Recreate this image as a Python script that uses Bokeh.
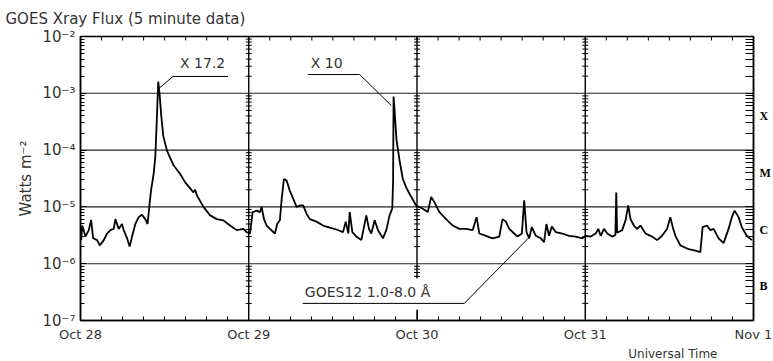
import math
from bokeh.plotting import figure
from bokeh.models import Range1d, FixedTicker, LogAxis, Label, Title
from bokeh.embed import file_html
from bokeh.resources import INLINE

# ---- data: hours since 2003-10-28 00:00 UT, GOES12 1.0-8.0 A flux (W m^-2)
hours = [0.1, 0.24, 0.71, 1.18, 1.52, 1.8, 2.37, 2.75, 3.32, 3.79, 4.27, 4.74, 4.98, 5.45, 5.92, 6.16,
         6.64, 7.01, 7.35, 7.82, 8.3, 8.77, 9.24, 9.57, 9.86, 10.05, 10.43, 10.67, 10.88, 11.09, 11.3,
         11.52, 11.8, 12.33, 13.27, 14.22, 14.93, 16.12, 16.35, 16.6, 17.54, 18.49, 19.44, 20.38, 21.33,
         22.28, 23.23, 23.7,
         24.18, 24.56, 25.13, 25.6, 25.84, 26.17, 26.55, 27.02, 27.73, 28.06, 28.44, 28.68, 29.01, 29.4,
         29.87, 30.34, 30.82, 31.29, 31.76, 32.24, 32.71, 33.66, 34.6, 35.56, 36.51, 37.45, 37.83, 38.21,
         38.4, 38.78, 39.35, 40.06, 40.77, 41.15, 41.48, 41.96, 42.43, 43.14, 43.62, 44.09, 44.47, 44.59,
         44.66, 44.8, 45.08, 45.51, 45.98, 46.46, 46.93, 47.88,
         48.83, 49.54, 50.02, 50.49, 51.2, 52.15, 53.09, 54.04, 55.0, 55.94, 56.5, 56.89, 57.84, 58.78,
         59.73, 60.2, 60.68, 61.15, 61.87, 62.34, 62.96, 63.29, 63.62, 64.0, 64.38, 64.95, 65.66, 66.13,
         66.46, 66.84, 67.23, 67.79, 68.74, 69.69, 70.64, 71.58,
         72.06, 72.77, 73.49, 73.86, 74.2, 74.67, 75.14, 75.85, 76.3, 76.42, 76.55, 77.27, 77.75, 78.13,
         78.46, 78.93, 79.4, 79.88, 80.6, 81.53, 82.25, 82.96, 83.67, 84.14, 84.48, 84.86, 85.57, 86.75,
         87.7, 88.42, 88.74, 89.36, 89.84, 90.31, 91.02, 91.73, 92.44, 92.91, 93.3, 93.87, 94.33, 95.04,
         95.76]
flux = [2.6e-6, 4.7e-6, 3.0e-6, 3.9e-6, 5.9e-6, 2.8e-6, 2.6e-6, 2.1e-6, 2.6e-6, 3.4e-6, 3.9e-6, 4.1e-6,
        6.1e-6, 4.1e-6, 5.0e-6, 3.9e-6, 2.8e-6, 2.0e-6, 3.0e-6, 5.0e-6, 6.6e-6, 7.3e-6, 6.1e-6, 5.0e-6,
        1.15e-5, 1.9e-5, 3.8e-5, 7.5e-5, 3.3e-4, 1.6e-3, 9.1e-4, 4.0e-4, 1.8e-4, 9.8e-5, 5.4e-5, 3.8e-5,
        2.7e-5, 1.8e-5, 2.0e-5, 1.6e-5, 1.0e-5, 7.1e-6, 6.1e-6, 5.8e-6, 4.7e-6, 3.9e-6, 4.1e-6, 3.6e-6,
        3.4e-6, 8.1e-6, 8.6e-6, 8.1e-6, 1.0e-5, 6.1e-6, 4.7e-6, 4.1e-6, 3.4e-6, 5.0e-6, 5.8e-6, 1.3e-5,
        3.1e-5, 2.9e-5, 1.9e-5, 1.4e-5, 1.0e-5, 1.06e-5, 1.06e-5, 7.6e-6, 6.1e-6, 5.5e-6, 4.7e-6, 4.3e-6,
        4.0e-6, 3.6e-6, 5.5e-6, 3.4e-6, 8.1e-6, 3.6e-6, 3.0e-6, 2.6e-6, 7.1e-6, 4.1e-6, 3.4e-6, 5.8e-6,
        3.9e-6, 2.8e-6, 3.9e-6, 7.1e-6, 9.3e-6, 2.9e-5, 8.8e-4, 5.0e-4, 1.5e-4, 6.6e-5, 3.1e-5, 2.2e-5,
        1.7e-5, 1.06e-5,
        9.3e-6, 8.1e-6, 1.5e-5, 1.2e-5, 8.1e-6, 6.1e-6, 4.7e-6, 4.1e-6, 4.1e-6, 3.9e-6, 6.6e-6, 3.4e-6,
        3.1e-6, 2.8e-6, 3.0e-6, 6.1e-6, 5.5e-6, 4.1e-6, 3.4e-6, 3.0e-6, 3.4e-6, 1.3e-5, 3.6e-6, 2.8e-6,
        4.4e-6, 3.1e-6, 2.8e-6, 2.4e-6, 5.0e-6, 3.1e-6, 4.5e-6, 3.6e-6, 3.4e-6, 3.1e-6, 3.0e-6, 2.8e-6,
        3.1e-6, 3.0e-6, 3.4e-6, 4.1e-6, 3.1e-6, 4.1e-6, 3.4e-6, 3.0e-6, 3.2e-6, 1.8e-5, 3.5e-6, 3.9e-6,
        5.8e-6, 1.06e-5, 6.1e-6, 4.7e-6, 4.1e-6, 4.7e-6, 3.4e-6, 3.0e-6, 2.6e-6, 3.1e-6, 4.1e-6, 6.6e-6,
        4.4e-6, 3.1e-6, 2.1e-6, 1.8e-6, 1.7e-6, 1.6e-6, 4.4e-6, 4.7e-6, 3.9e-6, 4.1e-6, 2.8e-6, 2.3e-6,
        4.1e-6, 6.6e-6, 8.6e-6, 6.6e-6, 4.4e-6, 3.1e-6, 2.6e-6]

day_ticks = [0, 24, 48, 72, 96]
day_labels = ["Oct 28", "Oct 29", "Oct 30", "Oct 31", "Nov 1"]
hour3_ticks = list(range(0, 97, 3))
decade_exps = [-7, -6, -5, -4, -3, -2]
decade_labels = ["10⁻⁷", "10⁻⁶", "10⁻⁵", "10⁻⁴", "10⁻³", "10⁻²"]
class_labels = ["B", "C", "M", "X"]
class_values = [4e-7, 4e-6, 4e-5, 4e-4]
title_text = "GOES Xray Flux (5 minute data)"
ylabel_text = "Watts m⁻²"
xlabel_text = "Universal Time"
flare_labels = ["X 17.2", "X 10"]
series_label = "GOES12 1.0-8.0 Å"

decades = [10.0 ** e for e in decade_exps]
minors = [k * 10.0 ** e for e in decade_exps[:-1] for k in range(2, 10)]

FONT = "DejaVu Sans"
TXT = "#333333"

p = figure(width=773, height=361, x_range=Range1d(0, 96), y_range=Range1d(1e-7, 1e-2),
           y_axis_type="log", output_backend="svg", toolbar_location=None,
           min_border_left=80, min_border_right=18, min_border_top=36, min_border_bottom=41,
           background_fill_color="white", border_fill_color="white",
           outline_line_color="black", outline_line_width=1.5)
p.xgrid.visible = False
p.ygrid.visible = False

# title
p.title.text = title_text
p.title.align = "left"
p.title.vertical_align = "top"
p.title.standoff = 14
p.title.offset = -75
p.title.text_font = FONT
p.title.text_font_size = "15px"
p.title.text_font_style = "normal"
p.title.text_color = TXT

# decade lines and day lines
inner = decades[1:-1]
p.segment(x0=[day_ticks[0]] * len(inner), x1=[day_ticks[-1]] * len(inner), y0=inner, y1=inner,
          line_color="#222222", line_width=1.1)
days_in = day_ticks[1:-1]
p.segment(x0=days_in, x1=days_in, y0=[decades[0]] * len(days_in), y1=[decades[-1]] * len(days_in),
          line_color="black", line_width=1.4)
tx = [d for d in days_in for t in minors]
ty = [t for d in days_in for t in minors]
p.scatter(x=tx, y=ty, marker="dash", size=6, line_color="black", line_width=1)

# top-edge ticks (half of each dash is clipped by the frame)
p.scatter(x=hour3_ticks, y=[decades[-1]] * len(hour3_ticks), marker="dash", angle=math.pi / 2,
          size=8, line_color="black", line_width=1)

# white background behind the series label
p.quad(left=[31.2], right=[55.2], bottom=[1.56e-7], top=[5.5e-7], fill_color="white", line_color=None)

# flux curve
p.line(hours, flux, line_color="black", line_width=1.8)

# flare annotations
pk1 = flux.index(max(flux[:48]))
pk2 = flux.index(max(flux[48:98]))
p.line([hours[pk1] + 0.1, 13.2, 21.05], [1.22e-3, 1.98e-3, 1.98e-3], line_color="black", line_width=1)
p.line([hours[pk2] - 0.33, 39.82, 32.43], [6.1e-4, 2.14e-3, 2.14e-3], line_color="black", line_width=1)
p.line([63.86, 54.75, 31.7], [2.8e-6, 2.0e-7, 2.0e-7], line_color="black", line_width=1)

def lab(x, y, text, size, align="left"):
    p.add_layout(Label(x=x, y=y, text=text, text_font=FONT, text_font_size=size, text_color=TXT,
                       text_align=align, text_baseline="middle"))

lab(14.2, 3.35e-3, flare_labels[0], "14px")
lab(32.85, 3.48e-3, flare_labels[1], "14px")
lab(32.0, 3.24e-7, series_label, "14px")

# bottom axis
xa = p.xaxis[0]
xa.ticker = FixedTicker(ticks=day_ticks, minor_ticks=hour3_ticks)
xa.major_label_overrides = dict(zip(day_ticks, day_labels))
xa.major_tick_in = 10
xa.major_tick_out = 0
xa.minor_tick_in = 4
xa.minor_tick_out = 0
xa.major_label_standoff = 6
xa.major_label_text_font = FONT
xa.major_label_text_font_size = "13px"
xa.major_label_text_color = TXT
xa.axis_line_width = 1.5

# "Universal Time" below the axis, right of centre
ut = Title(text=xlabel_text, align="right", offset=36, text_font=FONT, text_font_size="12px",
           text_font_style="normal", text_color=TXT, standoff=0)
p.add_layout(ut, "below")

# left axis
ya = p.yaxis[0]
ya.ticker = FixedTicker(ticks=decades, minor_ticks=minors)
ya.major_label_overrides = dict(zip(decades, decade_labels))
ya.major_tick_in = 6
ya.major_tick_out = 0
ya.minor_tick_in = 4
ya.minor_tick_out = 0
ya.major_label_standoff = 5
ya.major_label_text_font = FONT
ya.major_label_text_font_size = "15px"
ya.major_label_text_color = TXT
ya.axis_label = ylabel_text
ya.axis_label_text_font = FONT
ya.axis_label_text_font_size = "15px"
ya.axis_label_text_font_style = "normal"
ya.axis_label_text_color = TXT
ya.axis_label_standoff = 4
ya.axis_line_width = 1.5

# right axis with flare classes
ra = LogAxis(ticker=FixedTicker(ticks=class_values, minor_ticks=minors + decades),
             major_label_overrides=dict(zip(class_values, class_labels)),
             major_tick_in=8, major_tick_out=0, minor_tick_in=8, minor_tick_out=0,
             major_label_standoff=6, major_label_text_font="Liberation Serif",
             major_label_text_font_style="bold", major_label_text_font_size="12px",
             major_label_text_color="black", axis_line_width=1.5)
p.add_layout(ra, "right")

open("out.html", "w").write(file_html(p, INLINE))
